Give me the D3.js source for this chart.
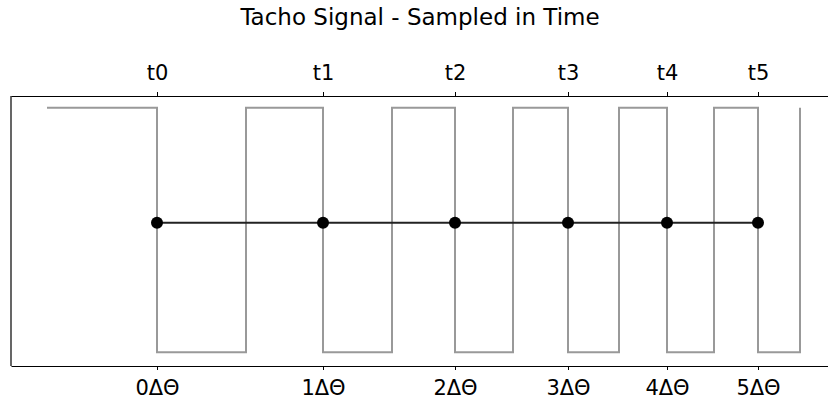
<!DOCTYPE html>
<html>
<head>
<meta charset="utf-8">
<script src="https://cdn.jsdelivr.net/npm/d3@7"></script>
<style>
  body { margin: 0; background: #fff; }
  text { font-family: "DejaVu Sans", sans-serif; }
</style>
</head>
<body>
<div class="container"></div>
<script>
// tacho square wave: edge times and the level after each edge
var edgeTimes = [0.36, 1.46, 2.35, 3.12, 3.81, 4.44, 5.02, 5.57, 6.08, 6.56, 7.03, 7.47, 7.89];
var edgeLevels = [1, 0, 1, 0, 1, 0, 1, 0, 1, 0, 1, 0, 1];

// samples taken on each falling edge
var sampleTimes = [1.46, 3.12, 4.44, 5.57, 6.56, 7.47];
var sampleLevel = 0.53;
var topLabels = ["t0", "t1", "t2", "t3", "t4", "t5"];
var bottomLabels = ["0ΔΘ", "1ΔΘ", "2ΔΘ", "3ΔΘ", "4ΔΘ", "5ΔΘ"];

var width = 828;
var height = 402;
var plot = {left: 11, right: 850, top: 96, bottom: 366};

function init() {
    var svg = d3.select(".container").append("svg")
        .attr("width", width)
        .attr("height", height);

    var x = d3.scaleLinear().domain([0, 8.39]).range([plot.left, plot.right]);
    var y = d3.scaleLinear().domain([-0.056, 1.048]).range([plot.bottom, plot.top]);

    var signal = edgeTimes.map(function(t, i){ return [t, edgeLevels[i]]; });

    svg.append("path")
        .datum(signal)
        .attr("fill", "none")
        .attr("stroke", "#999")
        .attr("stroke-width", 2)
        .attr("d", d3.line()
            .x(function(d){ return x(d[0]); })
            .y(function(d){ return y(d[1]); })
            .curve(d3.curveStepAfter));

    // sampled line + dots
    svg.append("line")
        .attr("x1", x(sampleTimes[0]))
        .attr("x2", x(sampleTimes[sampleTimes.length - 1]))
        .attr("y1", y(sampleLevel))
        .attr("y2", y(sampleLevel))
        .attr("stroke", "#222")
        .attr("stroke-width", 2);

    svg.selectAll("circle.sample")
        .data(sampleTimes)
        .enter()
        .append("circle")
        .classed("sample", true)
        .attr("cx", function(d){ return x(d); })
        .attr("cy", y(sampleLevel))
        .attr("r", 6)
        .attr("fill", "#000");

    // left spine
    svg.append("line")
        .attr("x1", plot.left).attr("x2", plot.left)
        .attr("y1", plot.top).attr("y2", plot.bottom)
        .attr("stroke", "#000")
        .attr("stroke-width", 1.2);

    var topAxis = svg.append("g")
        .attr("transform", "translate(0," + plot.top + ")")
        .call(d3.axisTop(x)
            .tickValues(sampleTimes)
            .tickFormat(function(d, i){ return topLabels[i]; })
            .tickSize(4)
            .tickSizeOuter(0)
            .tickPadding(12));

    var bottomAxis = svg.append("g")
        .attr("transform", "translate(0," + plot.bottom + ")")
        .call(d3.axisBottom(x)
            .tickValues(sampleTimes)
            .tickFormat(function(d, i){ return bottomLabels[i]; })
            .tickSize(4)
            .tickSizeOuter(0)
            .tickPadding(10));

    [topAxis, bottomAxis].forEach(function(ax){
        ax.select(".domain").attr("stroke-width", 1.2);
        ax.selectAll("text")
            .attr("font-family", "DejaVu Sans")
            .attr("font-size", 21)
            .attr("fill", "#000");
    });

    svg.append("text")
        .attr("x", 420)
        .attr("y", 25)
        .attr("text-anchor", "middle")
        .attr("font-family", "DejaVu Sans")
        .attr("font-size", 23)
        .attr("fill", "#000")
        .text("Tacho Signal - Sampled in Time");
}

init();
</script>
</body>
</html>
